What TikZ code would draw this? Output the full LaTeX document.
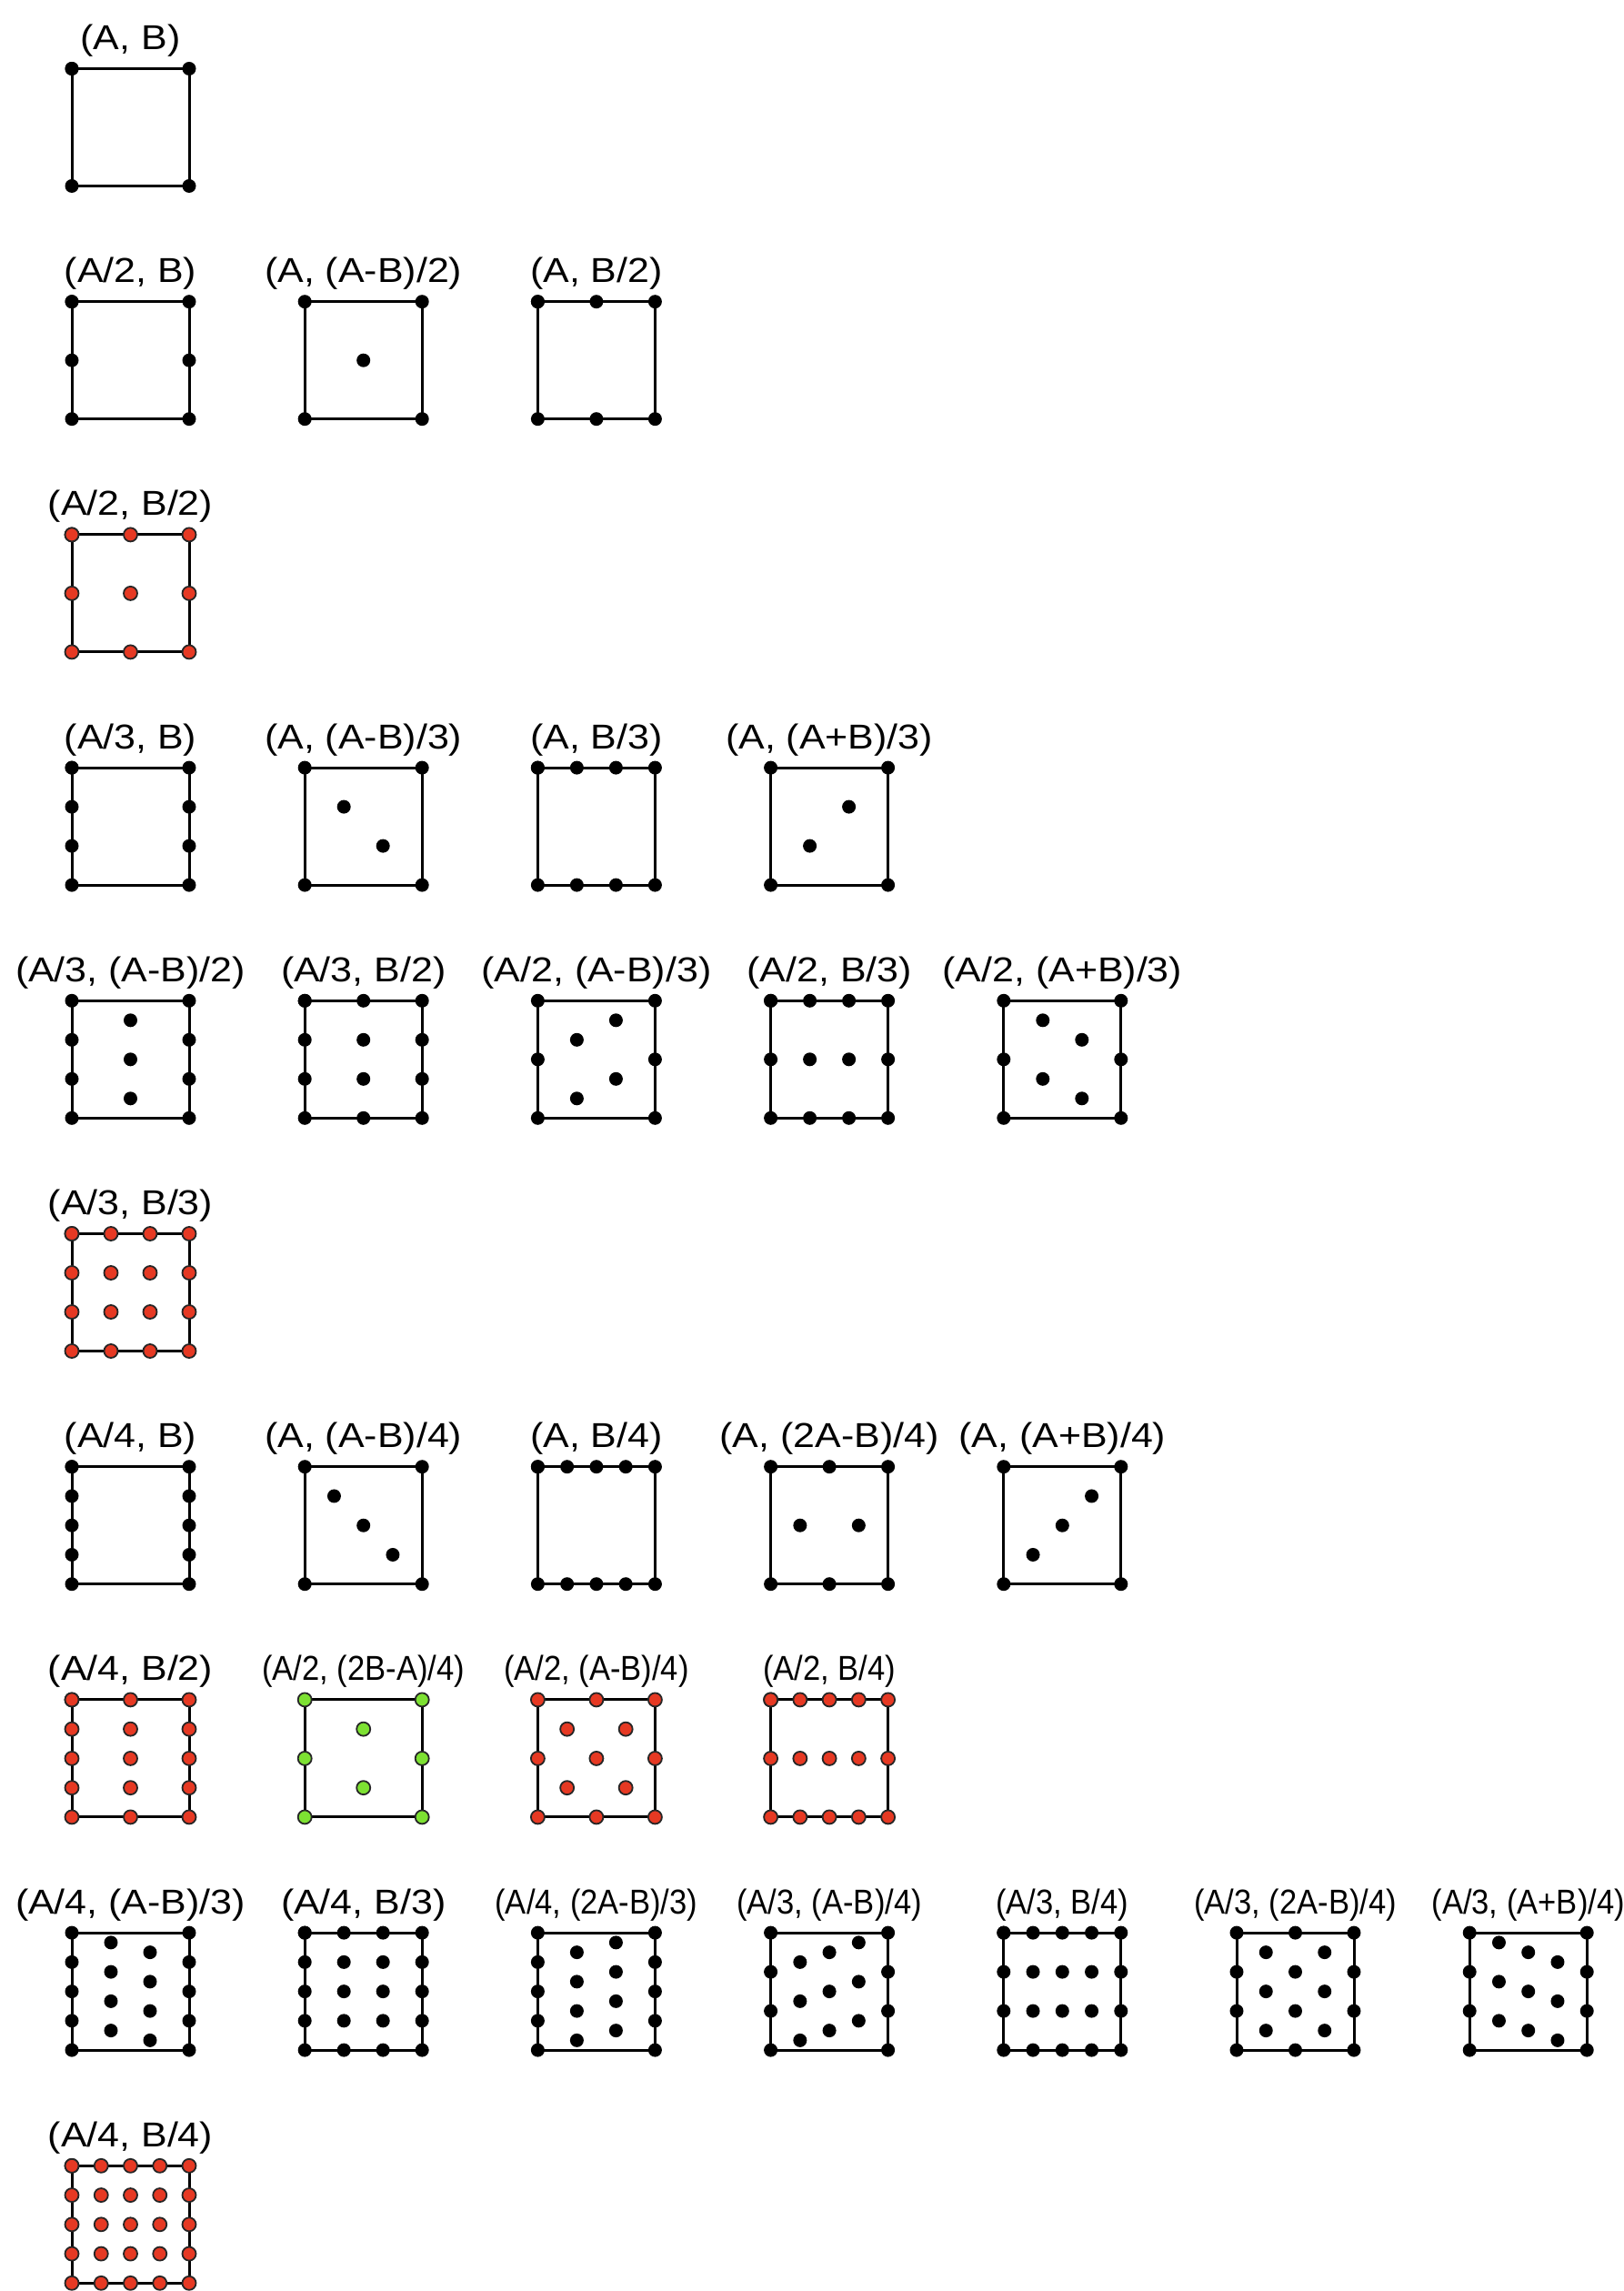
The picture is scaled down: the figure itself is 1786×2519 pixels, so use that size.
\documentclass[tikz,border=0pt]{standalone}
\usepackage{fontspec}
\setmainfont{Liberation Sans}
\definecolor{dotred}{RGB}{230,57,35}
\definecolor{dotgreen}{RGB}{125,225,50}
\tikzset{
  sq/.style={draw=black, line width=1.5pt},
  bdot/.style={fill=black},
  rdot/.style={fill=dotred, draw=black!85, line width=0.9pt},
  gdot/.style={fill=dotgreen, draw=black!85, line width=0.9pt},
  lab/.style={anchor=base, inner sep=0pt, font=\fontsize{19pt}{21pt}\selectfont}
}
% #1 name, #2 col, #3 row, #4 label, #5 xscale, #6 dot style, #7 nu, #8 nv, #9 extra points u/v
\newcommand\drawcell[9]{%
  \begin{scope}[shift={(79+256.2*#2, 75.5+256.2*#3)}]
    \node[lab] (#1) at (64.5,-21) {\scalebox{#5}[1]{#4}};
    \draw[sq] (0,0) rectangle (129,129);
    \foreach \i in {0,...,#7}{\foreach \j in {0,...,#8}{\path[#6] ({129*\i/#7},{129*\j/#8}) circle[radius=7.5];}}
    \foreach \u/\v in {#9}{\path[#6] ({129*\u},{129*\v}) circle[radius=7.5];}
  \end{scope}}
\def\nw{1.13}
\def\cw{0.91}
\begin{document}
\begin{tikzpicture}[x=0.5pt,y=-0.5pt]
\useasboundingbox (0,0) rectangle (1786,2519);
% row 0
\drawcell{c00}{0}{0}{(A, B)}{\nw}{bdot}{1}{1}{0/0}
% row 1
\drawcell{c10}{0}{1}{(A/2, B)}{\nw}{bdot}{1}{2}{0/0}
\drawcell{c11}{1}{1}{(A, (A-B)/2)}{\nw}{bdot}{1}{1}{0.5/0.5}
\drawcell{c12}{2}{1}{(A, B/2)}{\nw}{bdot}{2}{1}{0/0}
% row 2
\drawcell{c20}{0}{2}{(A/2, B/2)}{\nw}{rdot}{2}{2}{0/0}
% row 3
\drawcell{c30}{0}{3}{(A/3, B)}{\nw}{bdot}{1}{3}{0/0}
\drawcell{c31}{1}{3}{(A, (A-B)/3)}{\nw}{bdot}{1}{1}{0.3333/0.3333,0.6667/0.6667}
\drawcell{c32}{2}{3}{(A, B/3)}{\nw}{bdot}{3}{1}{0/0}
\drawcell{c33}{3}{3}{(A, (A+B)/3)}{\nw}{bdot}{1}{1}{0.6667/0.3333,0.3333/0.6667}
% row 4
\drawcell{c40}{0}{4}{(A/3, (A-B)/2)}{\nw}{bdot}{1}{3}{0.5/0.1667,0.5/0.5,0.5/0.8333}
\drawcell{c41}{1}{4}{(A/3, B/2)}{\nw}{bdot}{2}{3}{0/0}
\drawcell{c42}{2}{4}{(A/2, (A-B)/3)}{\nw}{bdot}{1}{2}{0.6667/0.1667,0.3333/0.3333,0.6667/0.6667,0.3333/0.8333}
\drawcell{c43}{3}{4}{(A/2, B/3)}{\nw}{bdot}{3}{2}{0/0}
\drawcell{c44}{4}{4}{(A/2, (A+B)/3)}{\nw}{bdot}{1}{2}{0.3333/0.1667,0.6667/0.3333,0.3333/0.6667,0.6667/0.8333}
% row 5
\drawcell{c50}{0}{5}{(A/3, B/3)}{\nw}{rdot}{3}{3}{0/0}
% row 6
\drawcell{c60}{0}{6}{(A/4, B)}{\nw}{bdot}{1}{4}{0/0}
\drawcell{c61}{1}{6}{(A, (A-B)/4)}{\nw}{bdot}{1}{1}{0.25/0.25,0.5/0.5,0.75/0.75}
\drawcell{c62}{2}{6}{(A, B/4)}{\nw}{bdot}{4}{1}{0/0}
\drawcell{c63}{3}{6}{(A, (2A-B)/4)}{\nw}{bdot}{2}{1}{0.25/0.5,0.75/0.5}
\drawcell{c64}{4}{6}{(A, (A+B)/4)}{\nw}{bdot}{1}{1}{0.75/0.25,0.5/0.5,0.25/0.75}
% row 7
\drawcell{c70}{0}{7}{(A/4, B/2)}{\nw}{rdot}{2}{4}{0/0}
\drawcell{c71}{1}{7}{(A/2, (2B-A)/4)}{\cw}{gdot}{1}{2}{0.5/0.25,0.5/0.75}
\drawcell{c72}{2}{7}{(A/2, (A-B)/4)}{\cw}{rdot}{2}{2}{0.25/0.25,0.75/0.25,0.25/0.75,0.75/0.75}
\drawcell{c73}{3}{7}{(A/2, B/4)}{\cw}{rdot}{4}{2}{0/0}
% row 8
\drawcell{c80}{0}{8}{(A/4, (A-B)/3)}{\nw}{bdot}{1}{4}{0.3333/0.0833,0.3333/0.3333,0.3333/0.5833,0.3333/0.8333,0.6667/0.1667,0.6667/0.4167,0.6667/0.6667,0.6667/0.9167}
\drawcell{c81}{1}{8}{(A/4, B/3)}{\nw}{bdot}{3}{4}{0/0}
\drawcell{c82}{2}{8}{(A/4, (2A-B)/3)}{\cw}{bdot}{1}{4}{0.3333/0.1667,0.3333/0.4167,0.3333/0.6667,0.3333/0.9167,0.6667/0.0833,0.6667/0.3333,0.6667/0.5833,0.6667/0.8333}
\drawcell{c83}{3}{8}{(A/3, (A-B)/4)}{\cw}{bdot}{1}{3}{0.25/0.25,0.25/0.5833,0.25/0.9167,0.5/0.1667,0.5/0.5,0.5/0.8333,0.75/0.0833,0.75/0.4167,0.75/0.75}
\drawcell{c84}{4}{8}{(A/3, B/4)}{\cw}{bdot}{4}{3}{0/0}
\drawcell{c85}{5}{8}{(A/3, (2A-B)/4)}{\cw}{bdot}{2}{3}{0.25/0.1667,0.25/0.5,0.25/0.8333,0.75/0.1667,0.75/0.5,0.75/0.8333}
\drawcell{c86}{6}{8}{(A/3, (A+B)/4)}{\cw}{bdot}{1}{3}{0.25/0.0833,0.25/0.4167,0.25/0.75,0.5/0.1667,0.5/0.5,0.5/0.8333,0.75/0.25,0.75/0.5833,0.75/0.9167}
% row 9
\drawcell{c90}{0}{9}{(A/4, B/4)}{\nw}{rdot}{4}{4}{0/0}
\end{tikzpicture}
\end{document}
